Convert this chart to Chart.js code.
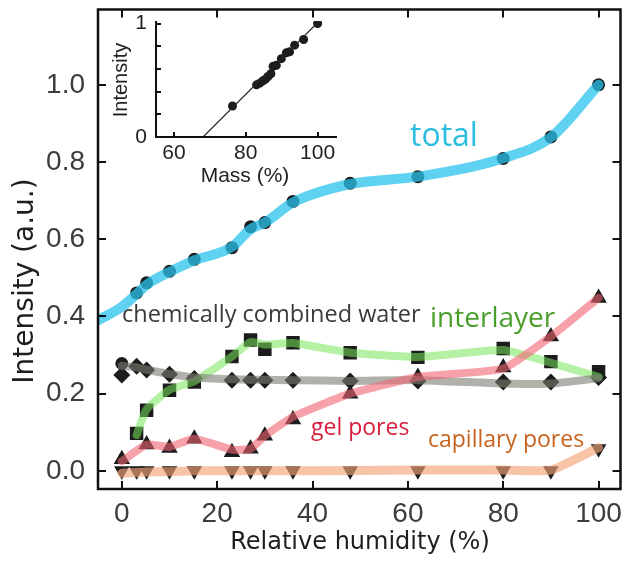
<!DOCTYPE html>
<html>
<head>
<meta charset="utf-8">
<title>Intensity vs relative humidity</title>
<script src="https://cdn.jsdelivr.net/npm/chart.js@4.4.0/dist/chart.umd.min.js"></script>
<style>
    html, body { margin: 0; padding: 0; background: #fff; }
    #wrap { position: relative; width: 630px; height: 561px; }
    #main { position: absolute; left: 0; top: 0; }
    #inset { position: absolute; left: 100px; top: 0; }
</style>
</head>
<body>
<div id="wrap">
    <canvas id="main" width="630" height="561"></canvas>
    <canvas id="inset" width="250" height="195"></canvas>
</div>
<script>
// --- data ---
const xTicks = [0, 20, 40, 60, 80, 100];
const yTicks = [0, 0.2, 0.4, 0.6, 0.8, 1.0];

// relative humidity steps (%)
const rh = [0, 3.1, 5.2, 10, 15.2, 23.1, 27, 30, 35.9, 47.9, 62.1, 80, 90, 100];
const rhNoZero = [3.1, 5.2, 10, 15.2, 23.1, 27, 30, 35.9, 47.9, 62.1, 80, 90, 100];
const rhGel = [0, 5.2, 10, 15.2, 23.1, 27, 30, 35.9, 47.9, 62.1, 80, 90, 100];

// total
const totalVals = [0.278, 0.461, 0.487, 0.517, 0.548, 0.578, 0.632, 0.643, 0.698, 0.745, 0.762, 0.809, 0.865, 1.0];
const totalFitRh = [-5, 0, 3.1, 5.2, 10, 15.2, 23.1, 27, 30, 35.9, 47.9, 62.1, 80, 90, 100];
const totalFitVals = [0.39, 0.425, 0.458, 0.482, 0.515, 0.545, 0.58, 0.626, 0.643, 0.695, 0.743, 0.762, 0.81, 0.864, 1.0];

// chemically combined water
const chemVals = [0.248, 0.271, 0.261, 0.25, 0.239, 0.235, 0.235, 0.235, 0.235, 0.233, 0.233, 0.23, 0.23, 0.242];
const chemLine = [0.272, 0.268, 0.262, 0.251, 0.242, 0.237, 0.236, 0.236, 0.235, 0.233, 0.235, 0.226, 0.226, 0.24];

// interlayer
const interVals = [0.097, 0.157, 0.209, 0.23, 0.296, 0.339, 0.315, 0.332, 0.306, 0.294, 0.317, 0.283, 0.257];
const interLine = [0.093, 0.16, 0.21, 0.232, 0.296, 0.334, 0.327, 0.331, 0.306, 0.295, 0.313, 0.28, 0.243];

// gel pores
const gelVals = [0.03, 0.068, 0.059, 0.083, 0.048, 0.057, 0.091, 0.133, 0.2, 0.243, 0.268, 0.348, 0.448];
const gelLine = [0.025, 0.068, 0.062, 0.083, 0.055, 0.057, 0.091, 0.14, 0.2, 0.243, 0.265, 0.348, 0.448];

// capillary pores
const capVals = [0, 0, 0, 0, 0, 0, 0, 0, 0, 0, 0, 0, 0, 0.057];
const capLine = [-0.006, -0.004, -0.003, -0.002, 0, 0, 0, 0, 0, 0.001, 0.002, 0.002, 0.002, 0.06];

// inset: intensity vs mass
const massTicks = [60, 80, 100];
const insetYTicks = [0, 0.2, 0.4, 0.6, 0.8, 1.0];
const massVals = [76.3, 83, 83.9, 84.8, 85.5, 86.2, 87, 87.6, 88.5, 89.9, 91.3, 92.2, 93.6, 96.1, 100];
const insetInt = [0.273, 0.46, 0.475, 0.496, 0.51, 0.534, 0.558, 0.623, 0.632, 0.691, 0.742, 0.751, 0.81, 0.86, 1.0];
const fitMass = [68.1, 101];
const fitInt = [0, 1.04];

function pts(xs, ys) { return xs.map((x, i) => ({ x: x, y: ys[i] })); }

const markerColor = '#1c1c1c';

function markers(xs, ys, style, r, rot) {
    return {
        data: pts(xs, ys), showLine: false, order: 2,
        pointStyle: style, pointRadius: r, pointRotation: rot || 0,
        pointBackgroundColor: markerColor, pointBorderWidth: 0
    };
}

function fitLine(xs, ys, color, w, order, monotone) {
    return {
        data: pts(xs, ys), showLine: true, order: order,
        borderColor: color, borderWidth: w, pointRadius: 0,
        borderCapStyle: 'round', borderJoinStyle: 'round',
        tension: monotone ? 0 : 0.15,
        cubicInterpolationMode: monotone ? 'monotone' : 'default'
    };
}

// keep the plot box exactly where the scale widths put it
function noPad(s) {
    s.paddingLeft = 0; s.paddingRight = 0; s.paddingTop = 0; s.paddingBottom = 0;
}

// frame with inward ticks on all four sides
const framePlugin = {
    id: 'frame',
    afterDatasetsDraw(chart) {
        const { ctx, chartArea: a, scales } = chart;
        const L = 8;
        ctx.save();
        ctx.strokeStyle = '#111';
        ctx.lineWidth = 2.5;
        ctx.strokeRect(a.left, a.top, a.right - a.left, a.bottom - a.top);
        ctx.lineWidth = 2;
        ctx.beginPath();
        scales.x.ticks.forEach(t => {
            const px = Math.round(scales.x.getPixelForValue(t.value));
            ctx.moveTo(px, a.bottom); ctx.lineTo(px, a.bottom - L);
            ctx.moveTo(px, a.top); ctx.lineTo(px, a.top + L);
        });
        scales.y.ticks.forEach(t => {
            const py = Math.round(scales.y.getPixelForValue(t.value));
            ctx.moveTo(a.left, py); ctx.lineTo(a.left + L, py);
            ctx.moveTo(a.right, py); ctx.lineTo(a.right - L, py);
        });
        ctx.stroke();
        ctx.restore();
    }
};

// series names and axis titles
const seriesLabels = [
    { text: 'total', x: 410, y: 146, color: '#2bbde0', size: 32 },
    { text: 'chemically combined water', x: 122, y: 322, color: '#3a3a3a', size: 23.5 },
    { text: 'interlayer', x: 430, y: 327, color: '#4a9e2a', size: 28 },
    { text: 'gel pores', x: 311, y: 435, color: '#d81e3c', size: 23 },
    { text: 'capillary pores', x: 428, y: 447, color: '#c8641e', size: 23 }
];

const textPlugin = {
    id: 'texts',
    afterDraw(chart) {
        const ctx = chart.ctx;
        ctx.save();
        ctx.textAlign = 'left';
        ctx.textBaseline = 'alphabetic';
        seriesLabels.forEach(l => {
            ctx.fillStyle = l.color;
            ctx.font = `${l.size}px "Open Sans"`;
            ctx.fillText(l.text, l.x, l.y);
        });
        ctx.fillStyle = '#1e1e1e';
        ctx.font = '24px "DejaVu Sans"';
        ctx.textAlign = 'center';
        ctx.textBaseline = 'middle';
        ctx.fillText('Relative humidity (%)', 360, 543);
        ctx.font = '28px "DejaVu Sans"';
        ctx.translate(26, 281);
        ctx.rotate(-Math.PI / 2);
        ctx.fillText('Intensity (a.u.)', 0, 0);
        ctx.restore();
    }
};

new Chart(document.getElementById('main'), {
    type: 'scatter',
    data: {
        datasets: [
            fitLine(totalFitRh, totalFitVals, 'rgba(40,195,235,0.75)', 10, 0, true),
            fitLine(rh, capLine, 'rgba(245,165,120,0.65)', 9, 1),
            fitLine(rh, chemLine, 'rgba(125,125,115,0.6)', 8, 1),
            fitLine(rhNoZero, interLine, 'rgba(120,230,90,0.55)', 8, 1),
            fitLine(rhGel, gelLine, 'rgba(242,100,115,0.6)', 8, 0),
            markers(rh, totalVals, 'circle', 6.5),
            markers(rh, chemVals, 'rectRot', 8.5),
            markers(rhNoZero, interVals, 'rect', 9.5),
            markers(rhGel, gelVals, 'triangle', 9.5),
            markers(rh, capVals, 'triangle', 9, 180)
        ]
    },
    options: {
        responsive: false,
        animation: false,
        events: [],
        layout: { padding: { top: 7, right: 6, left: 0, bottom: 0 } },
        plugins: { legend: { display: false }, tooltip: { enabled: false } },
        scales: {
            x: {
                type: 'linear', min: -5, max: 104.6,
                afterFit: s => { s.height = 72; noPad(s); },
                afterBuildTicks: s => { s.ticks = xTicks.map(v => ({ value: v })); },
                grid: { display: false, drawTicks: false },
                border: { display: false },
                ticks: { padding: 8, autoSkip: false, color: '#3c3c3c', font: { family: 'Liberation Sans', size: 28 } }
            },
            y: {
                type: 'linear', min: -0.047, max: 1.195,
                afterFit: s => { s.width = 98; noPad(s); },
                afterBuildTicks: s => { s.ticks = yTicks.map(v => ({ value: v })); },
                grid: { display: false, drawTicks: false },
                border: { display: false },
                ticks: {
                    padding: 13, autoSkip: false, color: '#3c3c3c', font: { family: 'Liberation Sans', size: 28 },
                    callback: v => v.toFixed(1)
                }
            }
        }
    },
    plugins: [framePlugin, textPlugin]
});

// inset: L-shaped axes with inward ticks
const insetAxes = {
    id: 'insetAxes',
    afterDatasetsDraw(chart) {
        const { ctx, chartArea: a, scales } = chart;
        const L = 5;
        ctx.save();
        ctx.strokeStyle = '#111';
        ctx.lineWidth = 2;
        ctx.beginPath();
        ctx.moveTo(a.left, a.top);
        ctx.lineTo(a.left, a.bottom);
        ctx.lineTo(a.right, a.bottom);
        scales.x.ticks.forEach(t => {
            const px = Math.round(scales.x.getPixelForValue(t.value));
            ctx.moveTo(px, a.bottom); ctx.lineTo(px, a.bottom - L);
        });
        scales.y.ticks.forEach(t => {
            const py = Math.round(scales.y.getPixelForValue(t.value));
            ctx.moveTo(a.left, py); ctx.lineTo(a.left + L, py);
        });
        ctx.stroke();
        ctx.fillStyle = '#222';
        ctx.textAlign = 'center';
        ctx.textBaseline = 'middle';
        ctx.font = '21px "Liberation Sans"';
        ctx.fillText('Mass (%)', 145, 176);
        ctx.font = '20px "Liberation Sans"';
        ctx.translate(21, 80);
        ctx.rotate(-Math.PI / 2);
        ctx.fillText('Intensity', 0, 0);
        ctx.restore();
    }
};

new Chart(document.getElementById('inset'), {
    type: 'scatter',
    data: {
        datasets: [
            {
                data: pts(fitMass, fitInt), showLine: true, borderColor: '#222',
                borderWidth: 1.2, pointRadius: 0, order: 0
            },
            {
                data: pts(massVals, insetInt), showLine: false, order: 1,
                pointRadius: 4.5, pointBackgroundColor: markerColor, pointBorderWidth: 0
            }
        ]
    },
    options: {
        responsive: false,
        animation: false,
        events: [],
        layout: { padding: { top: 21, right: 13, left: 0, bottom: 0 } },
        plugins: { legend: { display: false }, tooltip: { enabled: false } },
        scales: {
            x: {
                type: 'linear', min: 55, max: 105.4,
                afterFit: s => { s.height = 58; noPad(s); },
                afterBuildTicks: s => { s.ticks = massTicks.map(v => ({ value: v })); },
                grid: { display: false, drawTicks: false },
                border: { display: false },
                ticks: { padding: 4, autoSkip: false, color: '#222', font: { family: 'Liberation Sans', size: 21 } }
            },
            y: {
                type: 'linear', min: 0, max: 1.023,
                afterFit: s => { s.width = 56; noPad(s); },
                afterBuildTicks: s => { s.ticks = insetYTicks.map(v => ({ value: v })); },
                grid: { display: false, drawTicks: false },
                border: { display: false },
                ticks: {
                    padding: 9, autoSkip: false, color: '#222', font: { family: 'Liberation Sans', size: 21 },
                    callback: v => (v === 0 || v === 1) ? String(v) : ''
                }
            }
        }
    },
    plugins: [insetAxes]
});
</script>
</body>
</html>
